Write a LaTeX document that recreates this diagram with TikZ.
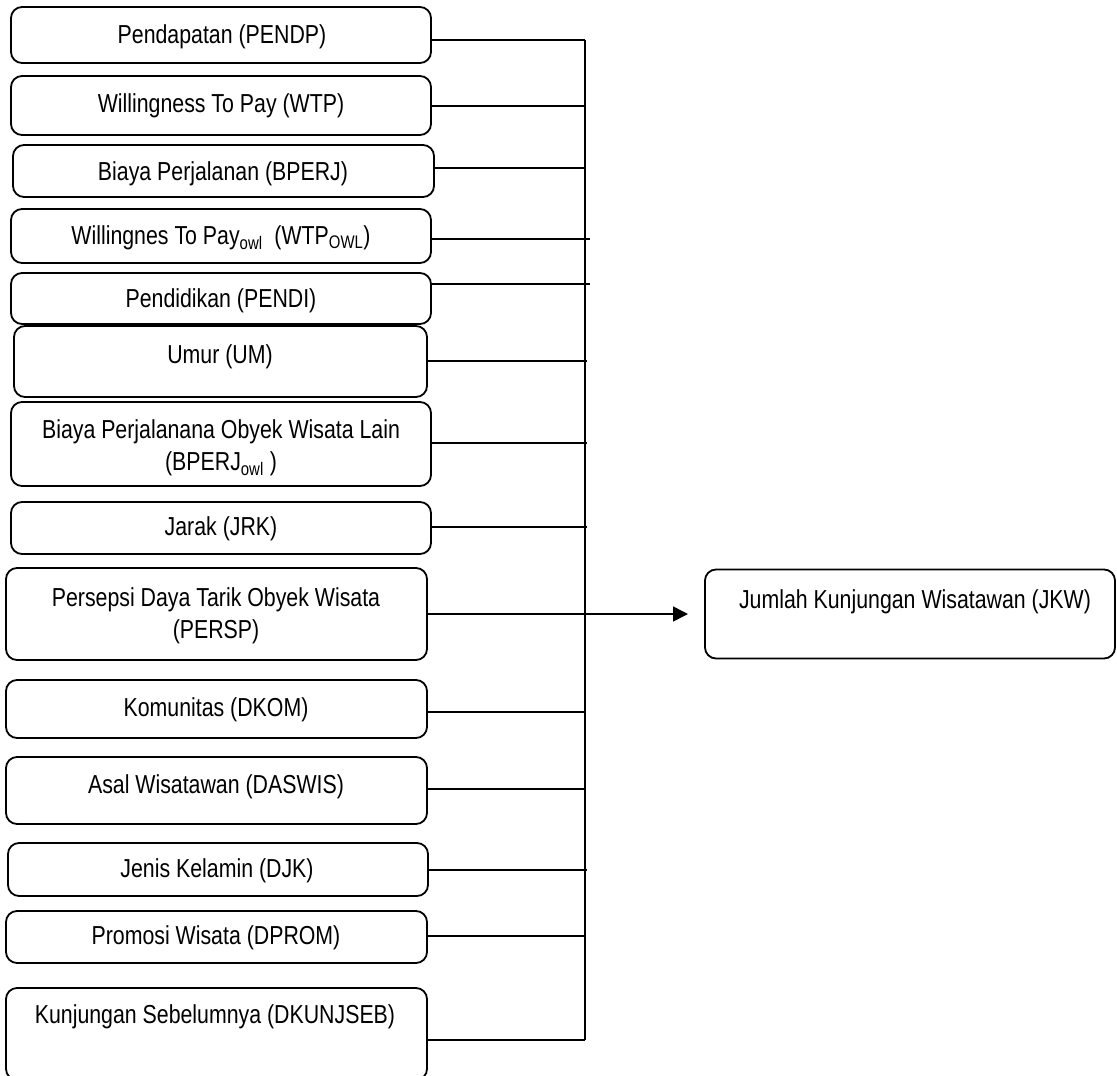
\documentclass[tikz,border=0pt]{standalone}
\usepackage{fontspec}
\setmainfont[FakeStretch=0.82]{Liberation Sans}
\usetikzlibrary{arrows.meta}
\begin{document}
\begin{tikzpicture}[x=1pt,y=-1pt,
  box/.style={draw=black, line width=1.8pt, rounded corners=11pt, inner sep=0pt, outer sep=0pt},
  lbl/.style={inner sep=0pt, align=center, font=\fontsize{26}{32}\selectfont},
  conn/.style={draw=black, line width=1.6pt},
  arr/.style={conn, -{Triangle[length=15pt,width=15pt]}, shorten >=17pt}]
\useasboundingbox (0,0) rectangle (1117,1076);
\clip (0,0) rectangle (1117,1076);
% boxes
\node[box, minimum width=420pt, minimum height=56pt] (b1) at (221,35) {};
\node[box, minimum width=420pt, minimum height=59pt] (b2) at (221,105.5) {};
\node[box, minimum width=421pt, minimum height=52pt] (b3) at (223.5,171) {};
\node[box, minimum width=420pt, minimum height=54pt] (b4) at (221,236) {};
\node[box, minimum width=420pt, minimum height=51pt] (b5) at (221,298.5) {};
\node[box, minimum width=413pt, minimum height=71pt] (b6) at (220.5,361.5) {};
\node[box, minimum width=420pt, minimum height=84pt] (b7) at (221,444) {};
\node[box, minimum width=420pt, minimum height=52pt] (b8) at (221,528) {};
\node[box, minimum width=421pt, minimum height=92pt] (b9) at (216.5,614) {};
\node[box, minimum width=421pt, minimum height=58pt] (b10) at (216.5,709) {};
\node[box, minimum width=421pt, minimum height=67pt] (b11) at (216.5,790.5) {};
\node[box, minimum width=420pt, minimum height=53pt] (b12) at (218,869.5) {};
\node[box, minimum width=421pt, minimum height=52pt] (b13) at (216.5,937) {};
\node[box, minimum width=421pt, minimum height=92pt] (b14) at (216.5,1034) {};
\node[box, minimum width=410pt, minimum height=89pt] (jkw) at (910,614) {};
% labels
\node[lbl] (t1) at (222,37) {Pendapatan (PENDP)};
\node[lbl] (t2) at (221,106) {Willingness To Pay (WTP)};
\node[lbl] (t3) at (223,174) {Biaya Perjalanan (BPERJ)};
\node[lbl] (t4) at (221,238) {Willingnes To Pay\textsubscript{owl}\ \ (WTP\textsubscript{OWL})};
\node[lbl] (t5) at (221,301) {Pendidikan (PENDI)};
\node[lbl] (t6) at (220,357) {Umur (UM)};
\node[lbl] (t7) at (221,448) {Biaya Perjalanana Obyek Wisata Lain\\(BPERJ\textsubscript{owl} )};
\node[lbl] (t8) at (221,529) {Jarak (JRK)};
\node[lbl] (t9) at (216,616) {Persepsi Daya Tarik Obyek Wisata\\(PERSP)};
\node[lbl] (t10) at (216,710) {Komunitas (DKOM)};
\node[lbl] (t11) at (216,787) {Asal Wisatawan (DASWIS)};
\node[lbl] (t12) at (217,871) {Jenis Kelamin (DJK)};
\node[lbl] (t13) at (216,938) {Promosi Wisata (DPROM)};
\node[lbl] (t14) at (215,1017) {Kunjungan Sebelumnya (DKUNJSEB)};
\node[lbl] (tj) at (915,602) {Jumlah Kunjungan Wisatawan (JKW)};
% junction points
\coordinate (j1) at (585,40);
\coordinate (j2) at (585,106);
\coordinate (j3) at (585,168);
\coordinate (j4) at (590,239);
\coordinate (j5) at (590,284);
\coordinate (j6) at (587,361);
\coordinate (j7) at (587,443);
\coordinate (j8) at (587,527);
\coordinate (j10) at (585,712);
\coordinate (j11) at (585,789);
\coordinate (j12) at (587,870);
\coordinate (j13) at (585,936);
\coordinate (j14) at (585,1040);
% connectors
\draw[conn] (j1) -- (j14);
\draw[conn] (b1.east |- j1) -- (j1);
\draw[conn] (b2.east |- j2) -- (j2);
\draw[conn] (b3.east |- j3) -- (j3);
\draw[conn] (b4.east |- j4) -- (j4);
\draw[conn] (b5.east |- j5) -- (j5);
\draw[conn] (b6.east |- j6) -- (j6);
\draw[conn] (b7.east |- j7) -- (j7);
\draw[conn] (b8.east |- j8) -- (j8);
\draw[conn] (b10.east |- j10) -- (j10);
\draw[conn] (b11.east |- j11) -- (j11);
\draw[conn] (b12.east |- j12) -- (j12);
\draw[conn] (b13.east |- j13) -- (j13);
\draw[conn] (b14.east |- j14) -- (j14);
\draw[arr] (b9.east) -- (jkw.west);
\end{tikzpicture}
\end{document}
